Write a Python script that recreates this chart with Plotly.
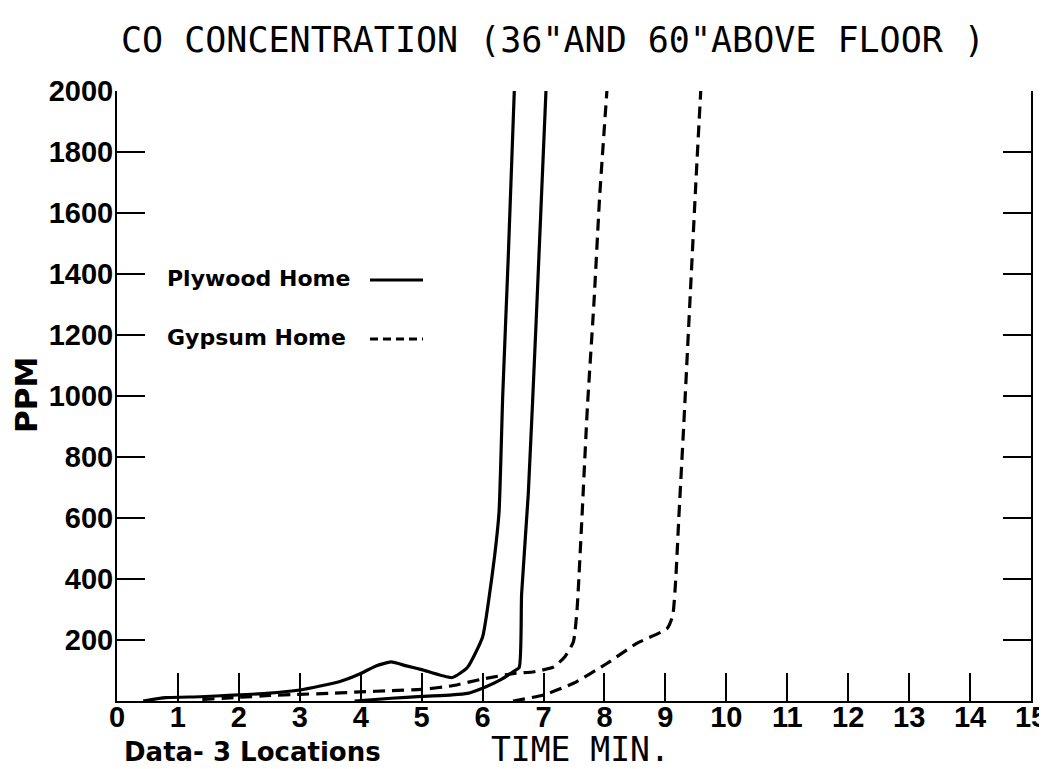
import plotly.graph_objects as go

# ---- data ----
ply1_t = [0.43, 0.8, 1.36, 1.9, 2.45, 3.0, 3.66, 4.0, 4.25, 4.5, 4.75, 5.0, 5.5, 5.75, 6.0, 6.1, 6.2, 6.27, 6.33, 6.42, 6.52]
ply1_ppm = [0, 11, 14, 19, 25, 36, 64, 90, 115, 128, 115, 103, 77, 110, 210, 330, 480, 620, 1000, 1450, 2000]

ply2_t = [3.9, 4.5, 5.0, 5.5, 5.75, 6.0, 6.3, 6.5, 6.6, 6.64, 6.75, 6.88, 7.04]
ply2_ppm = [0, 9, 15, 20, 25, 42, 70, 96, 110, 350, 680, 1250, 2000]

gyp1_t = [1.4, 2.0, 2.5, 3.0, 3.5, 4.0, 4.5, 5.0, 5.5, 6.0, 6.5, 6.85, 7.17, 7.35, 7.49, 7.55, 7.63, 7.72, 7.83, 7.92, 8.04]
gyp1_ppm = [5, 12, 18, 22, 25, 30, 34, 38, 50, 72, 90, 96, 112, 145, 194, 300, 600, 964, 1315, 1650, 2000]

gyp2_t = [6.5, 7.0, 7.49, 8.04, 8.53, 9.03, 9.12, 9.17, 9.22, 9.3, 9.4, 9.5, 9.58]
gyp2_ppm = [0, 20, 58, 123, 189, 238, 280, 400, 600, 900, 1300, 1700, 2000]

x_ticks = list(range(0, 16))
y_ticks = list(range(200, 2001, 200))

# ---- layout helpers: page pixels -> paper fractions ----
OFF = 8                      # page body margin
W, H = 1047 - OFF, 769 - OFF
L, R, T, B = 117, 1031, 91, 701   # plot area in page pixels
def px(x):
    return (x - L) / (R - L)
def py(y):
    return (B - y) / (B - T)

fig = go.Figure()
solid = dict(color="black", width=3.2, shape="spline", smoothing=0.5)
dashed = dict(color="black", width=3.2, dash="12px,7px", shape="spline", smoothing=0.5)
fig.add_trace(go.Scatter(x=ply1_t, y=ply1_ppm, mode="lines", line=solid, name="Plywood Home"))
fig.add_trace(go.Scatter(x=ply2_t, y=ply2_ppm, mode="lines", line=solid, name="Plywood Home"))
fig.add_trace(go.Scatter(x=gyp1_t, y=gyp1_ppm, mode="lines", line=dashed, name="Gypsum Home"))
fig.add_trace(go.Scatter(x=gyp2_t, y=gyp2_ppm, mode="lines", line=dashed, name="Gypsum Home"))

tickfont = dict(family="Liberation Sans", size=29, color="black", weight="bold")

fig.update_layout(
    width=W, height=H,
    margin=dict(l=L - OFF, r=1047 - R, t=T - OFF, b=769 - B),
    paper_bgcolor="white", plot_bgcolor="white",
    showlegend=False,
    xaxis=dict(range=[0, 15], tickvals=x_ticks, ticktext=[str(v) for v in x_ticks],
               showline=True, linecolor="black", linewidth=2, mirror=False,
               ticks="inside", ticklen=28, tickwidth=2, tickcolor="black",
               showgrid=False, zeroline=False, tickfont=tickfont, ticklabelstandoff=-11,
               ticklabeloverflow="allow", automargin=False),
    yaxis=dict(range=[0, 2000], tickvals=y_ticks, ticktext=[str(v) for v in y_ticks],
               showline=True, linecolor="black", linewidth=2, mirror="ticks",
               ticks="inside", ticklen=28, tickwidth=2, tickcolor="black",
               showgrid=False, zeroline=False, tickfont=tickfont, ticklabelstandoff=-4,
               ticklabeloverflow="allow", automargin=False),
)

annos = [
    dict(text='CO CONCENTRATION (36"AND 60"ABOVE FLOOR )', x=px(553), y=py(40),
         font=dict(family="DejaVu Sans Mono", size=35, color="black")),
    dict(text="TIME MIN.", x=px(580), y=py(749),
         font=dict(family="DejaVu Sans Mono", size=33, color="black")),
    dict(text="PPM", x=px(26), y=py(395), textangle=-90,
         font=dict(family="DejaVu Sans", size=31, color="black", weight="bold")),
    dict(text="Data- 3 Locations", x=px(122), y=py(752), xanchor="left",
         font=dict(family="DejaVu Sans", size=26, color="black", weight="bold")),
    dict(text="Plywood Home", x=px(165), y=py(278), xanchor="left",
         font=dict(family="DejaVu Sans", size=22, color="black", weight="bold")),
    dict(text="Gypsum Home", x=px(165), y=py(337), xanchor="left",
         font=dict(family="DejaVu Sans", size=22, color="black", weight="bold")),
]
for a in annos:
    a.setdefault("xanchor", "center")
    fig.add_annotation(xref="paper", yref="paper", yanchor="middle", showarrow=False, **a)

fig.add_shape(type="line", xref="paper", yref="paper", x0=px(370), x1=px(423), y0=py(280), y1=py(280),
              line=dict(color="black", width=3))
fig.add_shape(type="line", xref="paper", yref="paper", x0=px(370), x1=px(423), y0=py(339), y1=py(339),
              line=dict(color="black", width=3, dash="8px,5px"))

fig.write_html("out.html")
